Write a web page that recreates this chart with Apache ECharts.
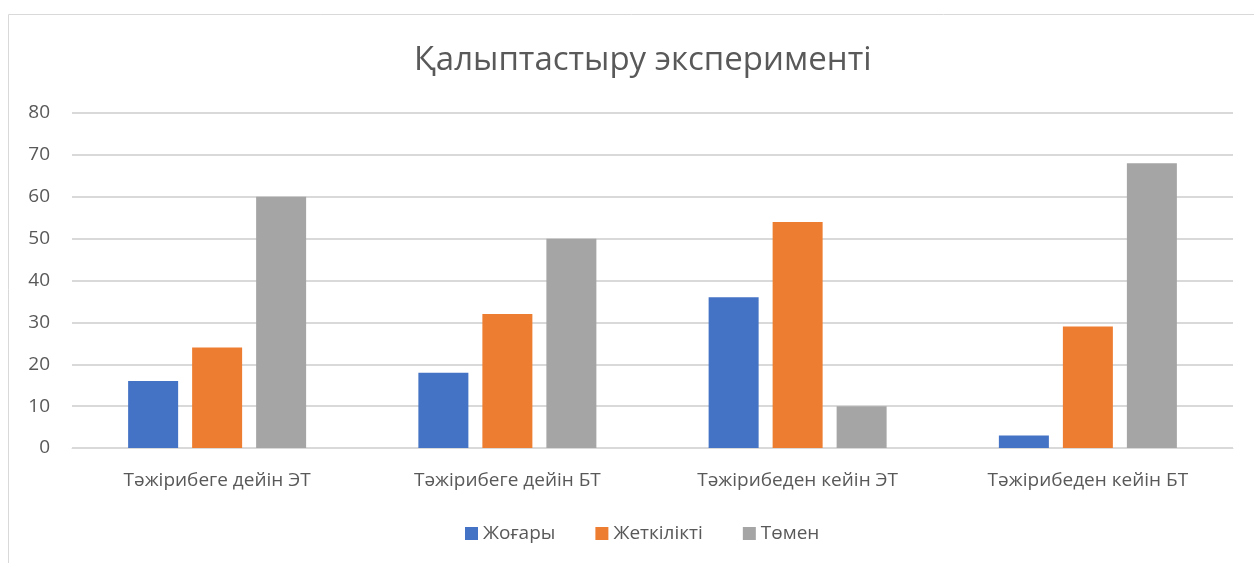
<!DOCTYPE html>
<html>
<head>
<meta charset="utf-8">
<style>
  html, body { margin: 0; padding: 0; background: #fff; }
  #chart { width: 1254px; height: 563px; }
</style>
<script src="https://cdn.jsdelivr.net/npm/echarts@6/dist/echarts.min.js"></script>
</head>
<body>
<div id="chart"></div>
<script>
  var categories = ['Тәжірибеге дейін ЭТ', 'Тәжірибеге дейін БТ', 'Тәжірибеден кейін ЭТ', 'Тәжірибеден кейін БТ']
  var seriesNames = ['Жоғары', 'Жеткілікті', 'Төмен']
  var highValues = [16, 18, 36, 3]
  var enoughValues = [24, 32, 54, 29]
  var lowValues = [60, 50, 10, 68]
  var colors = ['#4472C4', '#ED7D31', '#A5A5A5']

  var font = 'Open Sans'
  var chart = echarts.init(document.getElementById('chart'))

  function barSeries(name, data, i) {
    return {
      name: name,
      type: 'bar',
      data: data,
      barWidth: 50,
      barGap: '28%',
      itemStyle: { color: colors[i] },
      animation: false
    }
  }

  chart.setOption({
    textStyle: { fontFamily: font },
    // chart area frame (cut off at right and bottom like the screenshot)
    graphic: [{
      type: 'rect',
      shape: { x: 8.5, y: 14.5, width: 1400, height: 700 },
      style: { fill: 'none', stroke: '#D9D9D9', lineWidth: 1 },
      silent: true
    }],
    title: {
      text: 'Қалыптастыру эксперименті',
      left: 409,
      top: 39,
      textStyle: { color: '#595959', fontSize: 33, fontWeight: 'normal', fontFamily: font }
    },
    legend: {
      bottom: 15,
      left: 460,
      itemWidth: 13,
      itemHeight: 13,
      itemGap: 40,
      icon: 'rect',
      textStyle: { color: '#595959', fontSize: 19, fontFamily: font }
    },
    grid: { left: 72, right: 21, top: 113, bottom: 115 },
    xAxis: {
      type: 'category',
      data: categories,
      axisLine: { lineStyle: { color: '#D9D9D9', width: 1 } },
      axisTick: { show: false },
      axisLabel: { color: '#595959', fontSize: 19, margin: 23 }
    },
    yAxis: {
      type: 'value',
      min: 0,
      max: 80,
      interval: 10,
      axisLine: { show: false },
      axisTick: { show: false },
      axisLabel: { color: '#595959', fontSize: 19, margin: 22 },
      splitLine: { lineStyle: { color: '#D9D9D9', width: 2 } }
    },
    series: [
      barSeries(seriesNames[0], highValues, 0),
      barSeries(seriesNames[1], enoughValues, 1),
      barSeries(seriesNames[2], lowValues, 2)
    ]
  })
</script>
</body>
</html>
